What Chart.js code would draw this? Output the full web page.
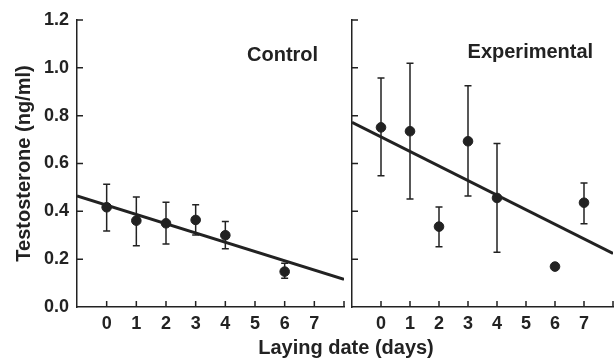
<!DOCTYPE html>
<html>
<head>
<meta charset="utf-8">
<script src="https://cdn.jsdelivr.net/npm/chart.js@4"></script>
<style>
  body { margin: 0; background: #fff; }
  #wrap { position: relative; width: 615px; height: 359px; overflow: hidden; }
  canvas { position: absolute; top: 0; }
  #left { left: 0; }
  #right { left: 340px; }
  #xtitle {
    position: absolute; left: 246px; top: 337px; width: 200px;
    text-align: center; font: bold 20px 'Liberation Sans', Arial, sans-serif;
    line-height: 20px; color: #222;
  }
</style>
</head>
<body>
<div id="wrap">
  <canvas id="left" width="350" height="359"></canvas>
  <canvas id="right" width="279" height="359"></canvas>
  <div id="xtitle">Laying date (days)</div>
</div>
<script>
// values
const controlDays = [0, 1, 2, 3, 4, 6];
const controlMean = [0.417, 0.361, 0.350, 0.364, 0.300, 0.148];
const controlHigh = [0.513, 0.460, 0.438, 0.428, 0.357, 0.183];
const controlLow  = [0.318, 0.256, 0.263, 0.301, 0.244, 0.120];
const controlFitX = [-1, 8];
const controlFitY = [0.464, 0.116];

const expDays = [0, 1, 2, 3, 4, 6, 7];
const expMean = [0.751, 0.735, 0.336, 0.693, 0.456, 0.169, 0.436];
const expHigh = [0.957, 1.019, 0.418, 0.925, 0.684, null, 0.518];
const expLow  = [0.549, 0.452, 0.252, 0.464, 0.229, null, 0.348];
const expFitX = [-1, 8];
const expFitY = [0.772, 0.224];

const xLabels = [0, 1, 2, 3, 4, 5, 6, 7];
const yMin = 0, yMax = 1.2, yStep = 0.2;

const ink = '#222';
const font = "'Liberation Sans', Arial, sans-serif";

// inward tick marks, error bars and panel label
const extras = {
  id: 'extras',
  afterDatasetsDraw(chart, args, opts) {
    const ctx = chart.ctx;
    const xs = chart.scales.x, ys = chart.scales.y;
    const area = chart.chartArea;
    ctx.save();
    ctx.strokeStyle = ink;
    ctx.lineWidth = 1.5;
    ctx.beginPath();
    xs.ticks.forEach(t => {
      if (Number.isInteger(t.value) && t.value >= 0) {
        const px = xs.getPixelForValue(t.value);
        ctx.moveTo(px, area.bottom);
        ctx.lineTo(px, area.bottom - 6);
      }
    });
    ys.ticks.forEach(t => {
      if (t.value > 0.01) {
        const py = ys.getPixelForValue(t.value);
        ctx.moveTo(area.left, py);
        ctx.lineTo(area.left + 6, py);
      }
    });
    ctx.stroke();

    ctx.beginPath();
    opts.days.forEach((d, i) => {
      if (opts.high[i] == null) return;
      const px = xs.getPixelForValue(d);
      const hi = ys.getPixelForValue(opts.high[i]);
      const lo = ys.getPixelForValue(opts.low[i]);
      ctx.moveTo(px, hi); ctx.lineTo(px, lo);
      ctx.moveTo(px - 3.5, hi); ctx.lineTo(px + 3.5, hi);
      ctx.moveTo(px - 3.5, lo); ctx.lineTo(px + 3.5, lo);
    });
    ctx.stroke();

    ctx.fillStyle = ink;
    ctx.font = 'bold 20px ' + font;
    ctx.textAlign = 'center';
    ctx.textBaseline = 'alphabetic';
    ctx.fillText(opts.label, xs.getPixelForValue(opts.labelX), ys.getPixelForValue(opts.labelY));
    ctx.restore();
  }
};

function panel(canvasId, cfg) {
  return new Chart(document.getElementById(canvasId), {
    type: 'scatter',
    data: {
      datasets: [
        {
          type: 'line',
          data: cfg.fitX.map((x, i) => ({x: x, y: cfg.fitY[i]})),
          borderColor: ink,
          borderWidth: 3,
          pointRadius: 0,
          clip: 0
        },
        {
          data: cfg.days.map((d, i) => ({x: d, y: cfg.mean[i]})),
          backgroundColor: ink,
          borderColor: ink,
          pointRadius: 4.8,
          pointHoverRadius: 4.8
        }
      ]
    },
    options: {
      responsive: false,
      animation: false,
      devicePixelRatio: 1,
      layout: { padding: { top: 20, right: cfg.padRight, left: 0, bottom: 0 } },
      plugins: {
        legend: { display: false },
        tooltip: { enabled: false },
        extras: {
          days: cfg.days, high: cfg.high, low: cfg.low,
          label: cfg.label, labelX: cfg.labelX, labelY: cfg.labelY
        }
      },
      scales: {
        x: {
          type: 'linear',
          min: -1,
          max: 8,
          grid: { display: false, drawTicks: false },
          border: { display: true, color: ink, width: 1.5 },
          ticks: {
            stepSize: 1,
            padding: 6,
            color: ink,
            font: { family: font, size: 18, weight: 'bold' },
            maxRotation: 0,
            autoSkip: false,
            callback: v => xLabels.includes(v) ? String(v) : ''
          },
          afterFit: s => { s.height = 52; }
        },
        y: {
          min: yMin,
          max: yMax,
          grid: { display: false, drawTicks: false },
          border: { display: true, color: ink, width: 1.5 },
          ticks: {
            display: cfg.showY,
            stepSize: yStep,
            padding: 8,
            color: ink,
            font: { family: font, size: 18, weight: 'bold' },
            callback: v => v.toFixed(1)
          },
          title: {
            display: cfg.showY,
            text: 'Testosterone (ng/ml)',
            color: ink,
            font: { family: font, size: 20, weight: 'bold' },
            padding: { top: 12, bottom: 0 }
          },
          afterFit: s => { s.width = cfg.yWidth; }
        }
      }
    },
    plugins: [extras]
  });
}

panel('left', {
  days: controlDays, mean: controlMean, high: controlHigh, low: controlLow,
  fitX: controlFitX, fitY: controlFitY,
  label: 'Control', labelX: 5.93, labelY: 1.03,
  padRight: 6, yWidth: 77, showY: true
});

panel('right', {
  days: expDays, mean: expMean, high: expHigh, low: expLow,
  fitX: expFitX, fitY: expFitY,
  label: 'Experimental', labelX: 5.15, labelY: 1.04,
  padRight: 0, yWidth: 12, showY: false
});
</script>
</body>
</html>
